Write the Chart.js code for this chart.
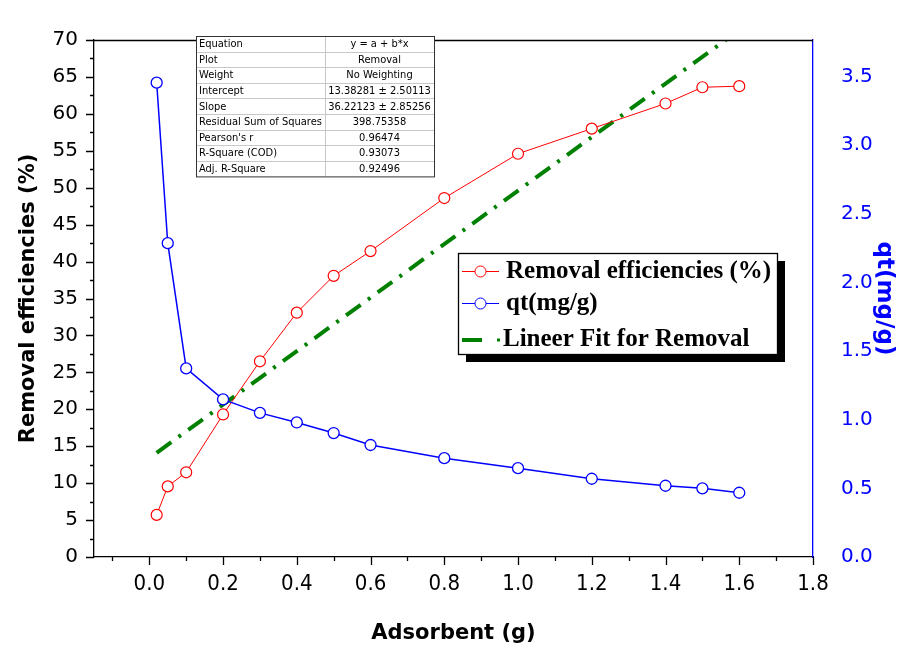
<!DOCTYPE html>
<html>
<head>
<meta charset="utf-8">
<script src="https://cdn.jsdelivr.net/npm/chart.js@4.4.1/dist/chart.umd.min.js"></script>
<style>
  html, body { margin: 0; padding: 0; background: #fff; }
  canvas { display: block; }
</style>
</head>
<body>
<canvas id="chart" width="902" height="646"></canvas>
<script>
// data
const adsorbent = [0.02, 0.05, 0.1, 0.2, 0.3, 0.4, 0.5, 0.6, 0.8, 1.0, 1.2, 1.4, 1.5, 1.6];
const removal = [5.7, 9.56, 11.47, 19.3, 26.5, 33.08, 38.07, 41.42, 48.6, 54.6, 58.0, 61.4, 63.6, 63.75];
const qt = [3.455, 2.286, 1.374, 1.148, 1.05, 0.98, 0.903, 0.816, 0.72, 0.647, 0.57, 0.519, 0.5, 0.468];
// fit line end points (x, y)
const fitX = [0.02, 1.6];
const fitY = [14.11, 71.34];

const xTicks = [0, 0.2, 0.4, 0.6, 0.8, 1.0, 1.2, 1.4, 1.6, 1.8];
const xMinorTicks = [-0.1, 0.1, 0.3, 0.5, 0.7, 0.9, 1.1, 1.3, 1.5, 1.7];
const yTicks = [0, 5, 10, 15, 20, 25, 30, 35, 40, 45, 50, 55, 60, 65, 70];
const yMinorTicks = [2.5, 7.5, 12.5, 17.5, 22.5, 27.5, 32.5, 37.5, 42.5, 47.5, 52.5, 57.5, 62.5, 67.5];
const y2Ticks = [0, 0.5, 1.0, 1.5, 2.0, 2.5, 3.0, 3.5];

const fitTable = [
    ['Equation', 'y = a + b*x'],
    ['Plot', 'Removal'],
    ['Weight', 'No Weighting'],
    ['Intercept', '13.38281 \u00b1 2.50113'],
    ['Slope', '36.22123 \u00b1 2.85256'],
    ['Residual Sum of Squares', '398.75358'],
    ["Pearson's r", '0.96474'],
    ['R-Square (COD)', '0.93073'],
    ['Adj. R-Square', '0.92496']
];

const legendItems = [
    { text: 'Removal efficiencies (%)', color: '#ff0000', kind: 'circle' },
    { text: 'qt(mg/g)', color: '#0000ff', kind: 'circle' },
    { text: 'Lineer Fit for Removal', color: '#008000', kind: 'fit' }
];

const GREEN = '#008000';

// outward major/minor ticks on left and bottom axes
const tickPlugin = {
    id: 'ticks',
    afterDraw(chart) {
        const ctx = chart.ctx;
        const area = chart.chartArea;
        const x = chart.scales.x;
        const y = chart.scales.y;
        ctx.save();
        ctx.strokeStyle = '#000';
        ctx.lineWidth = 1.3;
        ctx.beginPath();
        xTicks.forEach(v => {
            const px = Math.round(x.getPixelForValue(v)) + 0.5;
            ctx.moveTo(px, area.bottom);
            ctx.lineTo(px, area.bottom + 8);
        });
        xMinorTicks.forEach(v => {
            const px = Math.round(x.getPixelForValue(v)) + 0.5;
            ctx.moveTo(px, area.bottom);
            ctx.lineTo(px, area.bottom + 4);
        });
        yTicks.forEach(v => {
            const py = Math.round(y.getPixelForValue(v)) + 0.5;
            ctx.moveTo(area.left, py);
            ctx.lineTo(area.left - 8, py);
        });
        yMinorTicks.forEach(v => {
            const py = Math.round(y.getPixelForValue(v)) + 0.5;
            ctx.moveTo(area.left, py);
            ctx.lineTo(area.left - 4, py);
        });
        ctx.stroke();
        // top frame line
        ctx.beginPath();
        ctx.moveTo(area.left, area.top + 0.5);
        ctx.lineTo(area.right, area.top + 0.5);
        ctx.stroke();
        ctx.restore();
    }
};

// Origin style fit-result table
const tablePlugin = {
    id: 'fitTable',
    afterDraw(chart) {
        const ctx = chart.ctx;
        const left = 196, top = 36, rowH = 15.6;
        const col1 = 129, col2 = 109;
        const w = col1 + col2;
        const h = rowH * fitTable.length;
        ctx.save();
        ctx.fillStyle = '#fff';
        ctx.fillRect(left, top, w, h);
        ctx.strokeStyle = '#c8c8c8';
        ctx.lineWidth = 1;
        ctx.beginPath();
        for (let i = 1; i < fitTable.length; i++) {
            const yy = Math.round(top + i * rowH) + 0.5;
            ctx.moveTo(left, yy);
            ctx.lineTo(left + w, yy);
        }
        ctx.moveTo(left + col1 + 0.5, top);
        ctx.lineTo(left + col1 + 0.5, top + h);
        ctx.stroke();
        ctx.strokeStyle = '#333';
        ctx.strokeRect(left + 0.5, top + 0.5, w, h);
        ctx.fillStyle = '#000';
        ctx.font = '11px "DejaVu Sans Condensed", "Liberation Sans", sans-serif';
        ctx.textBaseline = 'middle';
        fitTable.forEach((row, i) => {
            const cy = top + i * rowH + rowH / 2 + 0.5;
            ctx.textAlign = 'left';
            ctx.fillText(row[0], left + 3, cy);
            ctx.textAlign = 'center';
            ctx.fillText(row[1], left + col1 + col2 / 2, cy);
        });
        ctx.restore();
    }
};

// boxed legend with drop shadow
const legendPlugin = {
    id: 'boxLegend',
    afterDraw(chart) {
        const ctx = chart.ctx;
        const bx = 458, by = 253, bw = 319, bh = 101, sh = 8;
        ctx.save();
        ctx.fillStyle = '#000';
        ctx.fillRect(bx + sh, by + sh, bw, bh);
        ctx.fillStyle = '#fff';
        ctx.fillRect(bx, by, bw, bh);
        ctx.strokeStyle = '#000';
        ctx.lineWidth = 1.3;
        ctx.strokeRect(bx + 0.5, by + 0.5, bw, bh);
        ctx.font = 'bold 25px "Liberation Serif", "Times New Roman", serif';
        ctx.textBaseline = 'middle';
        ctx.textAlign = 'left';
        const rows = [271, 303, 339];
        legendItems.forEach((item, i) => {
            const cy = rows[i];
            if (item.kind === 'circle') {
                ctx.strokeStyle = item.color;
                ctx.lineWidth = 1;
                ctx.beginPath();
                ctx.moveTo(462, cy + 0.5);
                ctx.lineTo(499, cy + 0.5);
                ctx.stroke();
                ctx.fillStyle = '#fff';
                ctx.beginPath();
                ctx.arc(480.5, cy + 0.5, 5.5, 0, Math.PI * 2);
                ctx.fill();
                ctx.stroke();
            } else {
                ctx.fillStyle = item.color;
                ctx.fillRect(462, cy - 1, 20, 4);
                ctx.fillRect(497, cy - 0.5, 3, 3);
            }
            ctx.fillStyle = '#000';
            ctx.fillText(item.text, i === 2 ? 503 : 506, cy + 1);
        });
        ctx.restore();
    }
};

const toXY = (xs, ys) => xs.map((v, i) => ({ x: v, y: ys[i] }));

new Chart(document.getElementById('chart'), {
    type: 'line',
    data: {
        datasets: [
            {
                label: 'Lineer Fit for Removal',
                data: toXY(fitX, fitY),
                yAxisID: 'y',
                borderColor: GREEN,
                borderWidth: 4,
                borderDash: [18, 9, 3, 9],
                pointRadius: 0,
                fill: false,
                order: 3
            },
            {
                label: 'Removal efficiencies (%)',
                data: toXY(adsorbent, removal),
                yAxisID: 'y',
                borderColor: '#ff0000',
                borderWidth: 1,
                pointRadius: 5.5,
                pointBorderWidth: 1.2,
                pointBackgroundColor: '#fff',
                pointBorderColor: '#ff0000',
                order: 2
            },
            {
                label: 'qt(mg/g)',
                data: toXY(adsorbent, qt),
                yAxisID: 'y2',
                borderColor: '#0000ff',
                borderWidth: 1.5,
                pointRadius: 5.5,
                pointBorderWidth: 1.3,
                pointBackgroundColor: '#fff',
                pointBorderColor: '#0000ff',
                order: 1
            }
        ]
    },
    options: {
        responsive: false,
        animation: false,
        devicePixelRatio: 1,
        layout: { padding: { top: 20, left: 0, right: 0, bottom: 0 } },
        plugins: {
            legend: { display: false },
            tooltip: { enabled: false }
        },
        scales: {
            x: {
                type: 'linear',
                min: -0.15,
                max: 1.8,
                afterBuildTicks: s => { s.ticks = xTicks.map(v => ({ value: v })); },
                afterFit: s => { s.height = 89; },
                grid: { display: false, drawTicks: false },
                border: { display: true, color: '#000', width: 1.3 },
                ticks: {
                    color: '#000',
                    padding: 14,
                    maxRotation: 0,
                    font: { family: '"Liberation Sans Narrow", "DejaVu Sans Condensed", sans-serif', size: 22 },
                    callback: v => v.toFixed(1)
                },
                title: {
                    display: true,
                    text: 'Adsorbent (g)',
                    color: '#000',
                    padding: { top: 8, bottom: 0 },
                    font: { family: '"DejaVu Sans", sans-serif', size: 21, weight: 'bold' }
                }
            },
            y: {
                type: 'linear',
                position: 'left',
                min: 0,
                max: 70,
                afterBuildTicks: s => { s.ticks = yTicks.map(v => ({ value: v })); },
                afterFit: s => { s.width = 94; },
                grid: { display: false, drawTicks: false },
                border: { display: true, color: '#000', width: 1.3 },
                ticks: {
                    color: '#000',
                    padding: 16,
                    font: { family: '"DejaVu Sans", sans-serif', size: 20 }
                },
                title: {
                    display: true,
                    text: 'Removal efficiencies (%)',
                    color: '#000',
                    padding: { top: 16, bottom: 4 },
                    font: { family: '"DejaVu Sans", sans-serif', size: 21, weight: 'bold' }
                }
            },
            y2: {
                type: 'linear',
                position: 'right',
                min: 0,
                max: 3.766,
                afterBuildTicks: s => { s.ticks = y2Ticks.map(v => ({ value: v })); },
                afterFit: s => { s.width = 89; },
                grid: { display: false, drawTicks: false },
                border: { display: true, color: '#0000ff', width: 1.3 },
                ticks: {
                    color: '#0000ff',
                    padding: 28,
                    font: { family: '"DejaVu Sans", sans-serif', size: 20 },
                    callback: v => v.toFixed(1)
                },
                title: {
                    display: true,
                    text: 'qt(mg/g)',
                    color: '#0000ff',
                    padding: { top: 4, bottom: 0 },
                    font: { family: '"DejaVu Sans", sans-serif', size: 23, weight: 'bold' }
                }
            }
        }
    },
    plugins: [tickPlugin, tablePlugin, legendPlugin]
});
</script>
</body>
</html>
